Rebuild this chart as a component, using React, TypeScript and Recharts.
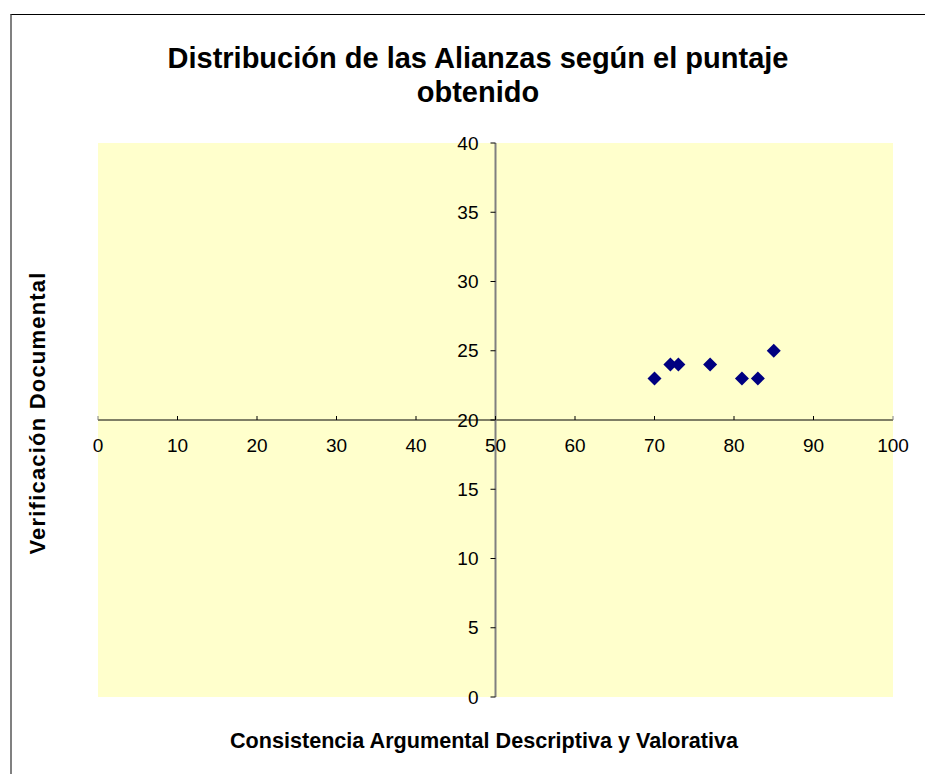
import { ScatterChart, Scatter, XAxis, YAxis, CartesianGrid, ReferenceLine } from "recharts";

const consistencia = [70, 72, 73, 77, 81, 83, 85];
const verificacion = [23, 24, 24, 24, 23, 23, 25];
const xTicks = [0, 10, 20, 30, 40, 50, 60, 70, 80, 90, 100];
const yTicks = [0, 5, 10, 15, 20, 25, 30, 35, 40];

const W = 925;
const H = 774;
const AXIS_SIZE = 30;
const M = { top: 143, right: 32, bottom: 77 - AXIS_SIZE, left: 98 - AXIS_SIZE };
const X_CROSS = 50;
const Y_CROSS = 20;
const plotLeft = M.left + AXIS_SIZE;
const plotW = W - plotLeft - M.right;
const plotH = H - M.top - M.bottom - AXIS_SIZE;
const crossX = plotLeft + (plotW * (X_CROSS - 0)) / 100;
const crossY = M.top + (plotH * (40 - Y_CROSS)) / 40;

const font = "Arial, 'Liberation Sans', sans-serif";

const points = consistencia.map((x, i) => ({ x, y: verificacion[i] }));

function XTick(props: any) {
  const { x, payload } = props;
  const edge = payload.value === 0 || payload.value === 100;
  return (
    <g>
      <line x1={x} x2={x} y1={crossY} y2={crossY - 4} stroke={edge ? "#808080" : "#000"} />
      <text x={x} y={crossY + 32} textAnchor="middle" fontSize={19} fontFamily={font} fill="#000">
        {payload.value}
      </text>
    </g>
  );
}

function YTick(props: any) {
  const { y, payload } = props;
  return (
    <g>
      <line x1={crossX - 5} x2={crossX} y1={y} y2={y} stroke="#000" />
      <text x={crossX - 17} y={y} dy="0.35em" textAnchor="end" fontSize={19} fontFamily={font} fill="#000">
        {payload.value}
      </text>
    </g>
  );
}

function Diamond(props: any) {
  const { cx, cy } = props;
  const r = 7;
  return <polygon points={`${cx},${cy - r} ${cx + r},${cy} ${cx},${cy + r} ${cx - r},${cy}`} fill="#000080" />;
}

export default function App() {
  return (
    <div style={styles.page}>
      <div style={styles.frame} />
      <div style={styles.title}>
        Distribución de las Alianzas según el puntaje
        <br />
        obtenido
      </div>
      <ScatterChart width={W} height={H} margin={M} style={{ position: "absolute", left: 0, top: 0 }}>
        <CartesianGrid horizontal={false} vertical={false} fill="#FFFFCC" stroke="none" />
        <ReferenceLine y={Y_CROSS} stroke="#000" strokeWidth={1} />
        <ReferenceLine x={X_CROSS} stroke="#808080" strokeWidth={2} />
        <XAxis
          type="number"
          dataKey="x"
          domain={[0, 100]}
          ticks={xTicks}
          height={AXIS_SIZE}
          axisLine={false}
          tickLine={false}
          tick={(p: any) => <XTick {...p} />}
          interval={0}
        />
        <YAxis
          type="number"
          dataKey="y"
          domain={[0, 40]}
          ticks={yTicks}
          width={AXIS_SIZE}
          axisLine={false}
          tickLine={false}
          tick={(p: any) => <YTick {...p} />}
          interval={0}
        />
        <Scatter data={points} shape={<Diamond />} isAnimationActive={false} />
      </ScatterChart>
      <div style={styles.yLabel}>Verificación Documental</div>
      <div style={styles.xLabel}>Consistencia Argumental Descriptiva y Valorativa</div>
    </div>
  );
}

const styles: Record<string, React.CSSProperties> = {
  page: { position: "absolute", left: 0, top: 0, width: W, height: H, background: "#fff", overflow: "hidden", fontFamily: font },
  frame: { position: "absolute", left: 10, top: 14, width: W, height: H, borderTop: "1px solid #000", borderLeft: "2px solid #808080" },
  title: { position: "absolute", left: 78, width: 800, top: 41, textAlign: "center", fontSize: 29, fontWeight: 700, lineHeight: "34px", color: "#000", zIndex: 2 },
  yLabel: { position: "absolute", left: 38, top: 413, transform: "translate(-50%, -50%) rotate(-90deg)", whiteSpace: "nowrap", fontSize: 22, fontWeight: 700, letterSpacing: 1.2, color: "#000" },
  xLabel: { position: "absolute", left: 84, width: 800, top: 728, textAlign: "center", fontSize: 21.6, fontWeight: 700, color: "#000" },
};
